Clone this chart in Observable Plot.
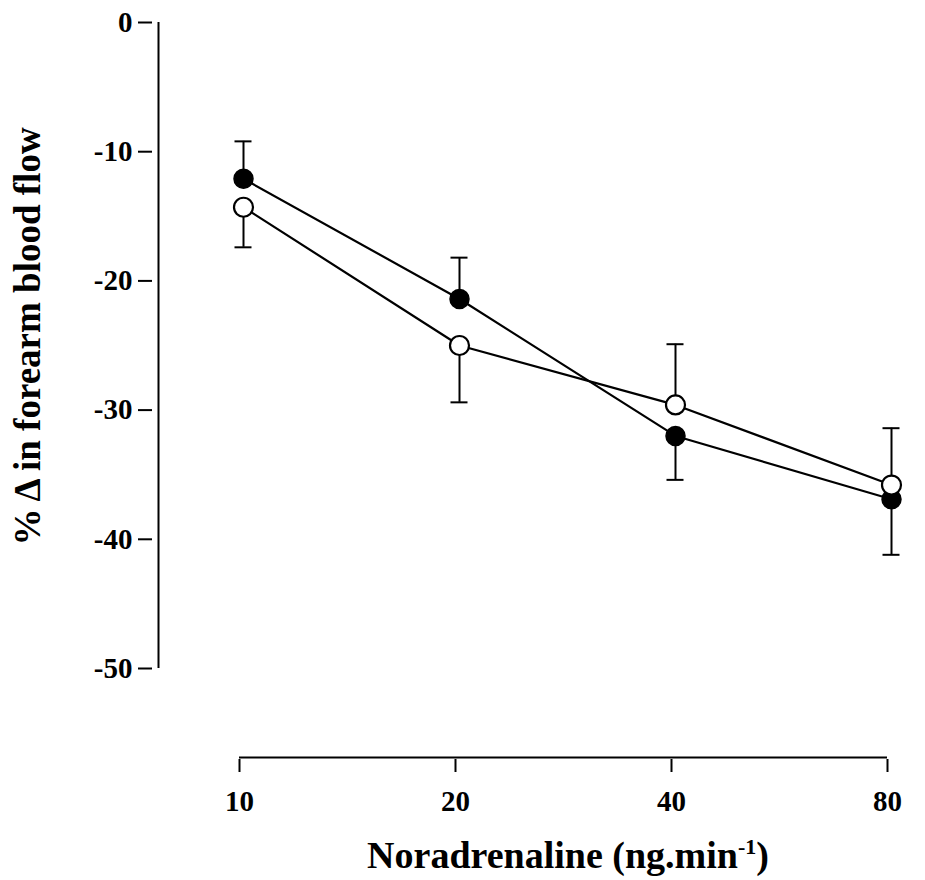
<!DOCTYPE html>
<html>
<head>
<meta charset="utf-8">
<script src="https://cdn.jsdelivr.net/npm/d3@7"></script>
<script src="https://cdn.jsdelivr.net/npm/@observablehq/plot@0.6"></script>
<style>
  html, body { margin: 0; padding: 0; background: #fff; }
</style>
</head>
<body>
<div id="chart"></div>
<script>
// Doses (x categories)
const doses = ["10", "20", "40", "80"];
// Filled circles series: means and the end of the (one-sided) SE bar
const filledMean = [-12.1, -21.4, -32.0, -36.9];
const filledBarEnd = [-9.2, -18.2, -35.4, -41.2];
// Open circles series
const openMean = [-14.3, -25.0, -29.6, -35.8];
const openBarEnd = [-17.4, -29.4, -24.9, -31.4];
// Axis ticks and labels
const yTicks = [0, -10, -20, -30, -40, -50];
const yLabel = "% \u0394 in forearm blood flow";
const xLabelMain = "Noradrenaline (ng.min";
const xLabelSup = "-1";
const xLabelEnd = ")";

const filled = doses.map((d, i) => ({dose: d, mean: filledMean[i], end: filledBarEnd[i]}));
const open = doses.map((d, i) => ({dose: d, mean: openMean[i], end: openBarEnd[i]}));
const xLabel = xLabelMain + xLabelSup + xLabelEnd;

const FONT = "'Liberation Serif', 'Times New Roman', serif";
const off = 4; // small horizontal offset of data from the ticks, as in the original

const chart = Plot.plot({
  width: 925,
  height: 880,
  marginTop: 22,
  marginBottom: 212,
  marginLeft: 157,
  marginRight: 37,
  style: {fontFamily: FONT, fontWeight: "bold", color: "black", background: "white"},
  x: {type: "point", domain: doses, range: [238, 888], padding: 0},
  y: {domain: [-50, 0]},
  marks: [
    // y axis line
    Plot.ruleX([doses[0]], {x: d => d, y1: () => 0, y2: () => -50, dx: -81, stroke: "black", strokeWidth: 2}),
    Plot.axisY({ticks: yTicks, tickSize: 14, tickPadding: 6, dx: -5, fontSize: 29, fontWeight: "bold",
                tickFormat: d => String(d), label: null, strokeWidth: 2}),
    // x axis line (detached, below)
    Plot.ruleY([-50], {x1: () => doses[0], x2: () => doses[3], dy: 89, stroke: "black", strokeWidth: 2}),
    Plot.axisX({anchor: "bottom", tickSize: 13, tickPadding: 18, dy: 91, fontSize: 29, fontWeight: "bold",
                label: null, strokeWidth: 2}),
    // error bars
    Plot.ruleX(filled, {x: "dose", y1: "mean", y2: "end", dx: off, stroke: "black", strokeWidth: 2}),
    Plot.ruleY(filled, {y: "end", x1: "dose", x2: "dose", insetLeft: -8.5, insetRight: -8.5, dx: off, stroke: "black", strokeWidth: 2}),
    Plot.ruleX(open, {x: "dose", y1: "mean", y2: "end", dx: off, stroke: "black", strokeWidth: 2}),
    Plot.ruleY(open, {y: "end", x1: "dose", x2: "dose", insetLeft: -8.5, insetRight: -8.5, dx: off, stroke: "black", strokeWidth: 2}),
    // lines
    Plot.line(filled, {x: "dose", y: "mean", dx: off, stroke: "black", strokeWidth: 2.2}),
    Plot.line(open, {x: "dose", y: "mean", dx: off, stroke: "black", strokeWidth: 2.2}),
    // dots
    Plot.dot(filled, {x: "dose", y: "mean", dx: off, r: 9.5, fill: "black", stroke: "black", strokeWidth: 1.5}),
    Plot.dot(open, {x: "dose", y: "mean", dx: off, r: 9.5, fill: "white", stroke: "black", strokeWidth: 2.2}),
    // axis titles
    Plot.text([yLabel], {text: d => d, frameAnchor: "left", textAnchor: "middle", lineAnchor: "middle", rotate: -90,
                         dx: -129, dy: -9, fontSize: 37, fontWeight: "bold", fill: "black"}),
    Plot.text([xLabel], {text: d => d, frameAnchor: "bottom", textAnchor: "middle", lineAnchor: "middle",
                         dx: 45, dy: 187, fontSize: 38, fontWeight: "bold", fill: "black"})
  ]
});

// Turn the "-1" of the x label into a real superscript
chart.querySelectorAll("text").forEach(t => {
  if (t.textContent === xLabel) {
    const ns = "http://www.w3.org/2000/svg";
    t.textContent = xLabelMain;
    const sup = document.createElementNS(ns, "tspan");
    sup.setAttribute("dy", "-14");
    sup.setAttribute("font-size", "22");
    sup.textContent = xLabelSup;
    const rest = document.createElementNS(ns, "tspan");
    rest.setAttribute("dy", "14");
    rest.textContent = xLabelEnd;
    t.appendChild(sup);
    t.appendChild(rest);
  }
});

document.getElementById("chart").appendChild(chart);
</script>
</body>
</html>
